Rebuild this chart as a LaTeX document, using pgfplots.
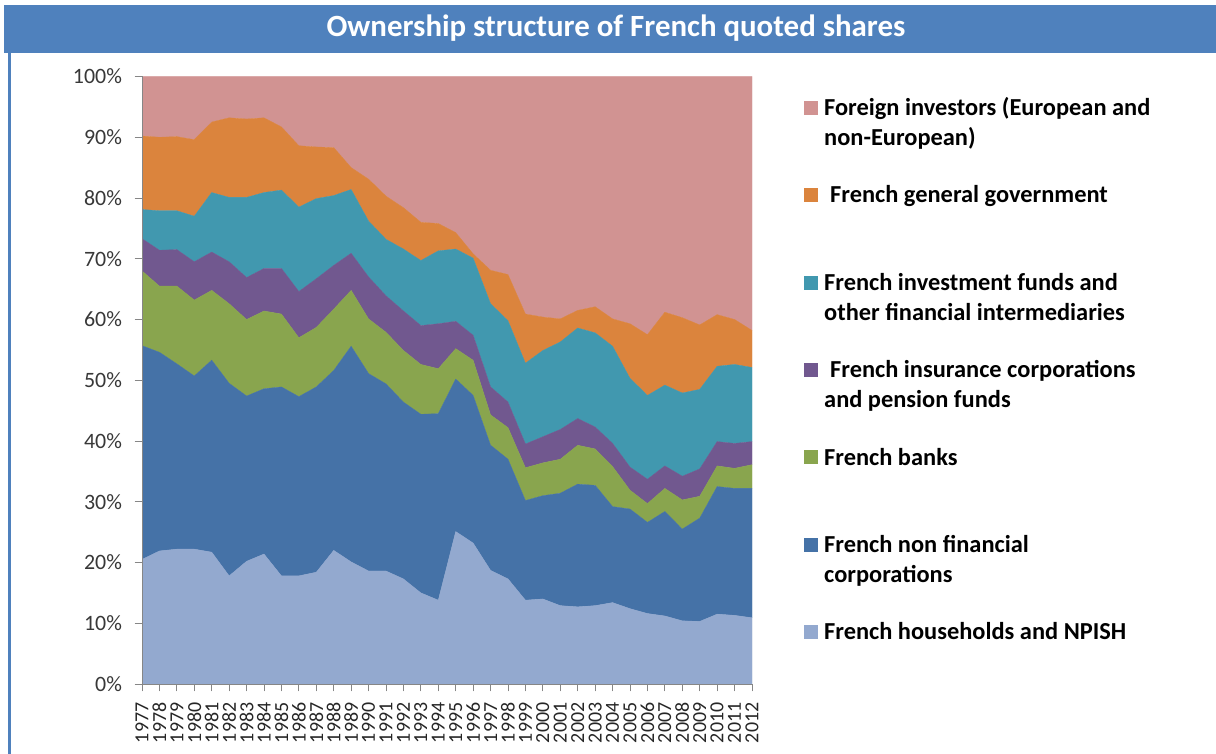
\documentclass[border=0pt]{standalone}
\usepackage{fontspec}
\setmainfont{Carlito}
\usepackage{pgfplots}
\usepackage{pgfplotstable}
\pgfplotsset{compat=1.18}
\definecolor{cForeign}{HTML}{D19392}
\definecolor{cGov}{HTML}{DB843D}
\definecolor{cFunds}{HTML}{4198AF}
\definecolor{cIns}{HTML}{71588F}
\definecolor{cBanks}{HTML}{89A54E}
\definecolor{cNonfin}{HTML}{4572A7}
\definecolor{cHouse}{HTML}{93A9CF}
\definecolor{titleblue}{HTML}{4F81BD}
\definecolor{axisgray}{HTML}{868686}
\pgfplotstableread{
year H N B I F G Fo
1977 20.5 35.2 12.3 5.3 4.8 12.1 9.8
1978 21.9 32.7 10.9 5.9 6.5 12.1 10.0
1979 22.2 30.5 12.8 6.0 6.4 12.2 9.9
1980 22.2 28.5 12.5 6.3 7.5 12.6 10.4
1981 21.7 31.6 11.5 6.3 9.8 11.6 7.5
1982 17.8 31.7 13.1 6.9 10.6 13.1 6.8
1983 20.2 27.2 12.6 6.9 13.2 12.9 7.0
1984 21.4 27.2 12.8 7.0 12.5 12.3 6.8
1985 17.8 31.1 12.0 7.5 12.9 10.4 8.3
1986 17.8 29.5 9.7 7.6 13.9 10.1 11.4
1987 18.4 30.5 9.8 8.0 13.2 8.5 11.6
1988 22.0 29.6 10.1 7.2 11.5 7.9 11.7
1989 20.1 35.5 9.2 6.1 10.5 3.6 15.0
1990 18.6 32.5 9.0 6.9 9.2 6.9 16.9
1991 18.6 30.8 8.5 6.0 9.3 7.1 19.7
1992 17.3 29.1 8.5 6.5 10.2 6.8 21.6
1993 15.0 29.4 8.2 6.4 10.7 6.3 24.0
1994 13.8 30.7 7.4 7.4 12.0 4.5 24.2
1995 25.1 25.1 5.0 4.5 11.9 2.7 25.7
1996 23.2 24.3 5.8 4.1 12.7 0.7 29.2
1997 18.7 20.6 5.0 4.6 13.7 5.5 31.9
1998 17.3 19.7 5.2 4.2 13.4 7.6 32.6
1999 13.8 16.4 5.4 3.9 13.3 8.1 39.1
2000 14.0 17.0 5.4 4.3 14.2 5.5 39.6
2001 12.9 18.5 5.6 4.9 14.4 3.8 39.9
2002 12.7 20.2 6.4 4.4 14.9 2.9 38.5
2003 12.9 19.8 6.0 3.6 15.5 4.3 37.9
2004 13.4 15.8 6.6 3.8 16.0 4.5 39.9
2005 12.4 16.4 3.1 3.8 14.6 9.0 40.7
2006 11.6 15.0 3.1 4.0 13.8 10.0 42.5
2007 11.2 17.2 3.8 3.7 13.3 12.0 38.8
2008 10.4 15.1 4.8 3.9 13.7 12.4 39.7
2009 10.3 17.0 3.6 4.5 13.1 10.6 40.9
2010 11.5 21.0 3.4 4.0 12.4 8.5 39.2
2011 11.3 20.9 3.3 4.1 13.0 7.4 40.0
2012 10.9 21.3 3.9 3.8 12.2 6.1 41.8
}\data
\begin{document}
\begin{tikzpicture}[x=1bp,y=1bp]
\path[use as bounding box] (0,0) rectangle (1216,754);
\fill[white] (0,0) rectangle (1216,754);
\fill[titleblue] (4,701) rectangle (1216,749);
\fill[titleblue] (8,0) rectangle (11,701);
\node[text=white, font=\fontsize{31}{36}\selectfont\bfseries] at (616,726) {Ownership structure of French quoted shares};
\begin{axis}[
  at={(142bp,70bp)}, anchor=south west,
  scale only axis, width=610bp, height=607.5bp,
  xmin=1977, xmax=2012, ymin=0, ymax=100,
  stack plots=y,
  axis on top,
  axis x line*=bottom, axis y line*=left,
  axis line style={axisgray, line width=0.9bp},
  tick style={axisgray, line width=0.9bp},
  tick align=outside, major tick length=7.5bp,
  xtick={1977,...,2012},
  xticklabels={1977,1978,1979,1980,1981,1982,1983,1984,1985,1986,1987,1988,1989,1990,1991,1992,1993,1994,1995,1996,1997,1998,1999,2000,2001,2002,2003,2004,2005,2006,2007,2008,2009,2010,2011,2012},
  ytick={0,10,...,100},
  yticklabels={0\%,10\%,20\%,30\%,40\%,50\%,60\%,70\%,80\%,90\%,100\%},
  yticklabel style={font=\fontsize{22}{25}\selectfont, text=black!78, anchor=east, xshift=-9bp},
  xticklabel style={font=\fontsize{20}{23}\selectfont, text=black!85, rotate=90, anchor=east, inner sep=1bp, xshift=-10bp},
]
\addplot[fill=cHouse, draw=cHouse, line width=0.3bp] table[x=year,y=H]{\data} \closedcycle;
\addplot[fill=cNonfin, draw=cNonfin, line width=0.3bp] table[x=year,y=N]{\data} \closedcycle;
\addplot[fill=cBanks, draw=cBanks, line width=0.3bp] table[x=year,y=B]{\data} \closedcycle;
\addplot[fill=cIns, draw=cIns, line width=0.3bp] table[x=year,y=I]{\data} \closedcycle;
\addplot[fill=cFunds, draw=cFunds, line width=0.3bp] table[x=year,y=F]{\data} \closedcycle;
\addplot[fill=cGov, draw=cGov, line width=0.3bp] table[x=year,y=G]{\data} \closedcycle;
\addplot[fill=cForeign, draw=cForeign, line width=0.3bp] table[x=year,y=Fo]{\data} \closedcycle;
\end{axis}
% legend
\begin{scope}[every node/.style={font=\fontsize{24.5}{28}\selectfont\bfseries, anchor=base west, inner sep=0pt}]
\fill[cForeign] (804,{754-108-7}) rectangle +(14,14);
\node at (824,{754-108-7.7}) {Foreign investors (European and};
\node at (824,{754-137.5-7.7}) {non-European)};
\fill[cGov] (804,{754-195-7}) rectangle +(14,14);
\node at (830,{754-195-7.7}) {French general government};
\fill[cFunds] (804,{754-283-7}) rectangle +(14,14);
\node at (824,{754-283-7.7}) {French investment funds and};
\node at (824,{754-313-7.7}) {other financial intermediaries};
\fill[cIns] (804,{754-370-7}) rectangle +(14,14);
\node at (830,{754-370-7.7}) {French insurance corporations};
\node at (824,{754-400-7.7}) {and pension funds};
\fill[cBanks] (804,{754-457.5-7}) rectangle +(14,14);
\node at (824,{754-457.5-7.7}) {French banks};
\fill[cNonfin] (804,{754-545-7}) rectangle +(14,14);
\node at (824,{754-545-7.7}) {French non financial};
\node at (824,{754-574.5-7.7}) {corporations};
\fill[cHouse] (804,{754-632-7}) rectangle +(14,14);
\node at (824,{754-632-7.7}) {French households and NPISH};
\end{scope}
\end{tikzpicture}
\end{document}
